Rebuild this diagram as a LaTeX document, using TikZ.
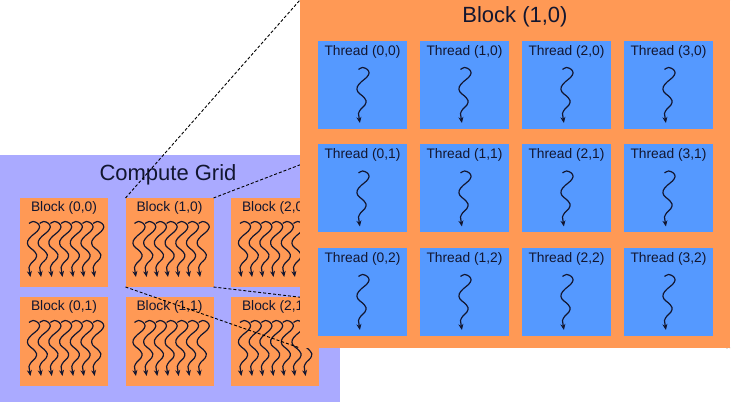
\documentclass[tikz,border=0pt]{standalone}
\usepackage{fontspec}
\setmainfont{Liberation Sans}
\usetikzlibrary{arrows.meta}
\definecolor{gridbg}{RGB}{170,170,255}
\definecolor{blockor}{RGB}{255,153,85}
\definecolor{threadbl}{RGB}{85,153,255}
\definecolor{ink}{RGB}{18,22,48}
\tikzset{
  gridbox/.style={fill=gridbg,draw=none,anchor=north west,inner sep=0pt,outer sep=0pt,minimum width=340pt,minimum height=247pt},
  bigblock/.style={fill=blockor,draw=none,anchor=north west,inner sep=0pt,outer sep=0pt,minimum width=430pt,minimum height=348pt},
  smallblock/.style={fill=blockor,draw=none,anchor=north west,inner sep=0pt,outer sep=0pt,minimum width=88pt,minimum height=89pt},
  threadbox/.style={fill=threadbl,draw=none,anchor=north west,inner sep=0pt,outer sep=0pt,minimum width=89pt,minimum height=88pt},
  lbl/.style={text=ink,inner sep=0pt,font=\fontsize{13.8}{16}\selectfont},
  ttl/.style={text=ink,inner sep=0pt,font=\fontsize{22}{26}\selectfont},
  squigline/.style={draw=ink,line width=1.2pt,-{Stealth[length=6pt,width=5pt]}},
  zoomline/.style={draw=black,line width=0.9pt,dash pattern=on 3pt off 2pt},
  squig/.pic={\draw[squigline] plot[smooth,tension=0.6] coordinates
    {(-4,1.5) (0,-0.5) (4.6,1.3) (6.6,5) (4,9.5) (-1.4,14) (-5.3,19) (-4.6,24) (0,28) (3.5,32.5) (2.4,37) (-1.6,41) (-4,45.5) (-3.4,50) (-2.6,55)};}
}
\begin{document}
\begin{tikzpicture}[x=1pt,y=-1pt]
\useasboundingbox (0,0) rectangle (740,411);
% compute grid
\node[gridbox] (grid) at (0,155) {};
\node[ttl] (gridtitle) at (168,175) {Compute Grid};
\foreach \c in {0,1,2}{
  \foreach \r in {0,1}{
    \pgfmathsetmacro{\bx}{20+105.5*\c}
    \pgfmathsetmacro{\by}{198+99*\r}
    \node[smallblock] (b\c\r) at (\bx,\by) {};
    \node[lbl] (bl\c\r) at ([yshift=-10.3pt]b\c\r.north) {Block (\c,\r)};
    \foreach \i in {0,...,6}{
      \pic at (\bx+13+10.7*\i,\by+24) {squig};
    }
  }
}
% zoom lines
\draw[zoomline] (b10.north west) -- (300,0) coordinate (bigNW);
\draw[zoomline] (b10.north east) -- (730,0) coordinate (bigNE);
\draw[zoomline] (b10.south west) -- (300,348) coordinate (bigSW);
\draw[zoomline] (b10.south east) -- (730,348) coordinate (bigSE);
% big block
\node[bigblock] (big) at (300,0) {};
\node[ttl] (bigtitle) at (515,17) {Block (1,0)};
\foreach \c in {0,1,2,3}{
  \foreach \r in {0,1,2}{
    \pgfmathsetmacro{\tx}{318+102*\c}
    \pgfmathsetmacro{\ty}{41+103.5*\r}
    \node[threadbox] (t\c\r) at (\tx,\ty) {};
    \node[lbl] (tl\c\r) at ([yshift=-10.5pt]t\c\r.north) {Thread (\c,\r)};
    \pic at (\tx+44.5,\ty+27) {squig};
  }
}
\end{tikzpicture}
\end{document}
